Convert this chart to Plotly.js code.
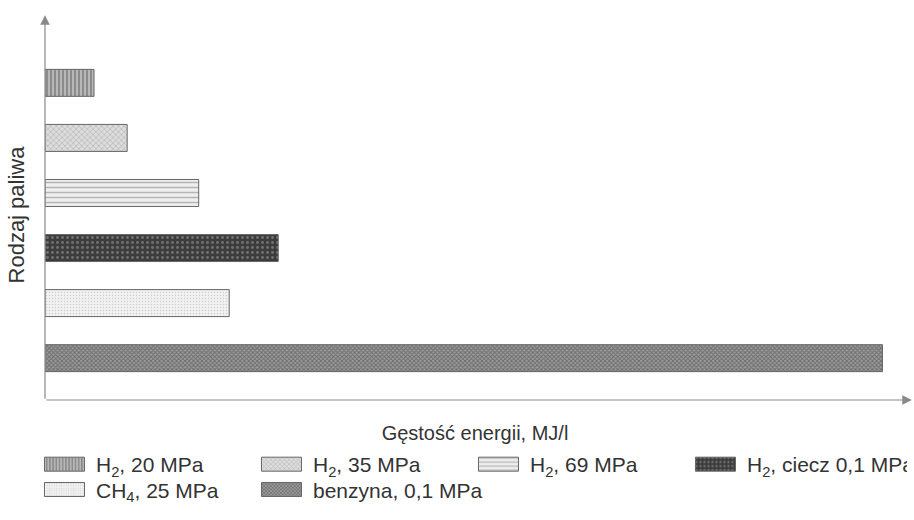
<!DOCTYPE html>
<html>
<head>
<meta charset="utf-8">
<script src="https://cdn.plot.ly/plotly-3.0.1.min.js"></script>
<style>html,body{margin:0;padding:0;background:#fff}#chart{width:914px;height:520px}</style>
</head>
<body>
<div id="chart"></div>
<script>
// Data (MJ/l, estimated)
const fuels = ["H<sub>2</sub>, 20 MPa", "H<sub>2</sub>, 35 MPa", "H<sub>2</sub>, 69 MPa", "H<sub>2</sub>, ciecz 0,1 MPa", "CH<sub>4</sub>, 25 MPa", "benzyna, 0,1 MPa"];
const categories = ["c6", "c5", "c4", "c3", "c2", "c1"]; // top to bottom
const energyDensity = [1.85, 3.1, 5.8, 8.8, 6.95, 31.6];

const styles = [
  {bg: "#b8b8b8", fg: "#4a4a4a", shape: "|", size: 4, solidity: 0.4},
  {bg: "#dcdcdc", fg: "#8a8a8a", shape: "x", size: 4, solidity: 0.3},
  {bg: "#efefef", fg: "#7a7a7a", shape: "-", size: 5, solidity: 0.3},
  {bg: "#3c3c3c", fg: "#a8a8a8", shape: ".", size: 5, solidity: 0.25},
  {bg: "#f2f2f2", fg: "#a5a5a5", shape: ".", size: 3, solidity: 0.2},
  {bg: "#9c9c9c", fg: "#3a3a3a", shape: "x", size: 3, solidity: 0.5}
];

const traces = fuels.map((name, i) => ({
  type: "bar",
  orientation: "h",
  name: name,
  x: [energyDensity[i]],
  y: [categories[i]],
  width: 0.49,
  marker: {
    color: styles[i].bg,
    line: {color: "#666", width: 1},
    pattern: {shape: styles[i].shape, fgcolor: styles[i].fg, bgcolor: styles[i].bg, size: styles[i].size, solidity: styles[i].solidity, fillmode: "overlay"}
  },
  hoverinfo: "skip"
}));

const layout = {
  width: 914, height: 520,
  margin: {l: 45, r: 9, t: 30, b: 120, autoexpand: false},
  paper_bgcolor: "#fff", plot_bgcolor: "#fff",
  barmode: "overlay",
  font: {family: "Liberation Sans, Arial, sans-serif", color: "#333"},
  xaxis: {
    range: [0, 32.45], showgrid: false, zeroline: false, showticklabels: false, ticks: "",
    showline: false, automargin: false,
    title: {text: "Gęstość energii, MJ/l", font: {size: 20, color: "#333"}, standoff: 25}
  },
  yaxis: {
    type: "category", categoryorder: "array", categoryarray: ["c1","c2","c3","c4","c5","c6"],
    range: [-0.76, 5.96], showgrid: false, zeroline: false, showticklabels: false, ticks: "",
    showline: false, automargin: false,
    title: {text: "Rodzaj paliwa", font: {size: 22, color: "#333"}, standoff: 13}
  },
  showlegend: true,
  legend: {
    orientation: "h", x: -0.007, xanchor: "left", y: -0.119, yanchor: "top",
    traceorder: "normal", entrywidth: 155, entrywidthmode: "pixels",
    itemwidth: 47, font: {size: 21, color: "#333"}, tracegroupgap: 0
  },
  annotations: [
    {xref: "paper", yref: "paper", x: 1.008, y: 0, ax: -867, ay: 0, axref: "pixel", ayref: "pixel",
     text: "", showarrow: true, arrowhead: 2, arrowsize: 1.6, arrowwidth: 1.2, arrowcolor: "#8a8a8a"},
    {xref: "paper", yref: "paper", x: 0, y: 1.04, ax: 0, ay: 385, axref: "pixel", ayref: "pixel",
     text: "", showarrow: true, arrowhead: 2, arrowsize: 1.6, arrowwidth: 1.2, arrowcolor: "#8a8a8a"}
  ]
};

Plotly.newPlot("chart", traces, layout, {displayModeBar: false, staticPlot: true}).then(gd => {
  gd.querySelectorAll(".legend .legendpoints path").forEach(p => {
    p.setAttribute("d", "M17,7H-23V-7H17Z");
  });
  // tighten the row spacing of the legend
  const items = Array.from(gd.querySelectorAll(".legend .traces"));
  const ys = items.map(g => {
    const m = /translate\(([-\d.]+),\s*([-\d.]+)\)/.exec(g.getAttribute("transform") || "");
    return m ? [parseFloat(m[1]), parseFloat(m[2])] : [0, 0];
  });
  const firstY = Math.min(...ys.map(v => v[1]));
  items.forEach((g, i) => {
    if (ys[i][1] > firstY + 1) g.setAttribute("transform", `translate(${ys[i][0]},${ys[i][1] - 5})`);
  });
});
</script>
</body>
</html>
